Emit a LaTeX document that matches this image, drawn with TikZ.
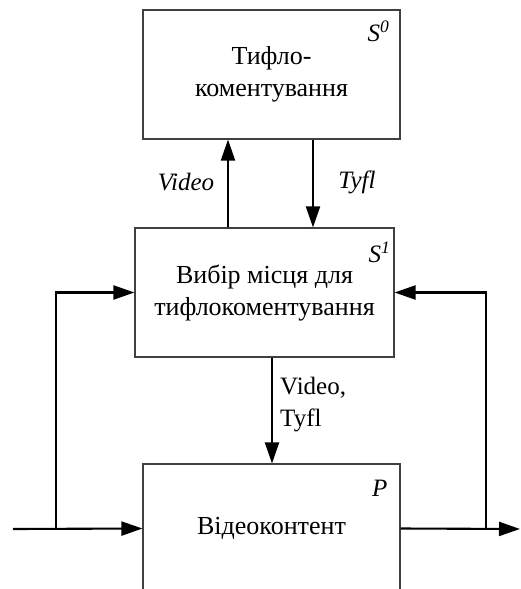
\documentclass[tikz,border=0pt]{standalone}
\usepackage{fontspec}
\setmainfont{Liberation Serif}
\usetikzlibrary{arrows.meta,calc}
\begin{document}
\begin{tikzpicture}[x=1pt,y=-1pt,
  box/.style={draw=black!75,line width=1.1pt,rectangle,minimum height=129pt,
    inner sep=0pt,align=center,font=\fontsize{26}{32}\selectfont},
  conn/.style={line width=2.1pt,-{Triangle[length=21pt,width=14pt]}},
  wire/.style={line width=2.1pt},
  lbl/.style={font=\fontsize{25}{30}\selectfont\itshape,inner sep=0pt},
  corner/.style={font=\fontsize{25}{30}\selectfont\itshape,inner sep=0pt,anchor=north east}]
\useasboundingbox (0,0) rectangle (520,589);
\node[box,minimum width=257pt] (S0) at (271.5,74.5) {Тифло-\\коментування};
\node[box,minimum width=259pt] (S1) at (264.5,292.5) {Вибір місця для\\тифлокоментування};
\node[box,minimum width=257pt] (P) at (271.5,528.5) {Відеоконтент};
\node[corner] (s0l) at ($(S0.north east)+(-11,11)$) {S\textsuperscript{0}};
\node[corner] (s1l) at ($(S1.north east)+(-4,14)$) {S\textsuperscript{1}};
\node[corner] (pl) at ($(P.north east)+(-13,16)$) {P};
\coordinate (vx) at (228,0);
\coordinate (tx) at (313,0);
\coordinate (px) at (272,0);
\coordinate (in) at (13,529);
\coordinate (out) at (520,529);
\coordinate (bl) at (56,0);
\coordinate (br) at (486,0);
\draw[conn] (S1.north -| vx) -- (S0.south -| vx);
\draw[conn] (S0.south -| tx) -- (S1.north -| tx);
\draw[conn] (S1.south -| px) -- (P.north -| px);
\draw[conn] (in) -- (P.west);
\draw[conn] (in -| bl) |- (S1.west);
\draw[conn] (P.east) -- (out);
\draw[conn] (P.east -| br) |- (S1.east);
\node[lbl] (vl) at (186,182) {Video};
\node[lbl] (tl) at (357,182) {Tyfl};
\node[anchor=west,align=left,inner sep=0pt,font=\fontsize{25}{32}\selectfont] (vtl) at (280,405) {Video,\\Tyfl};
\end{tikzpicture}
\end{document}
